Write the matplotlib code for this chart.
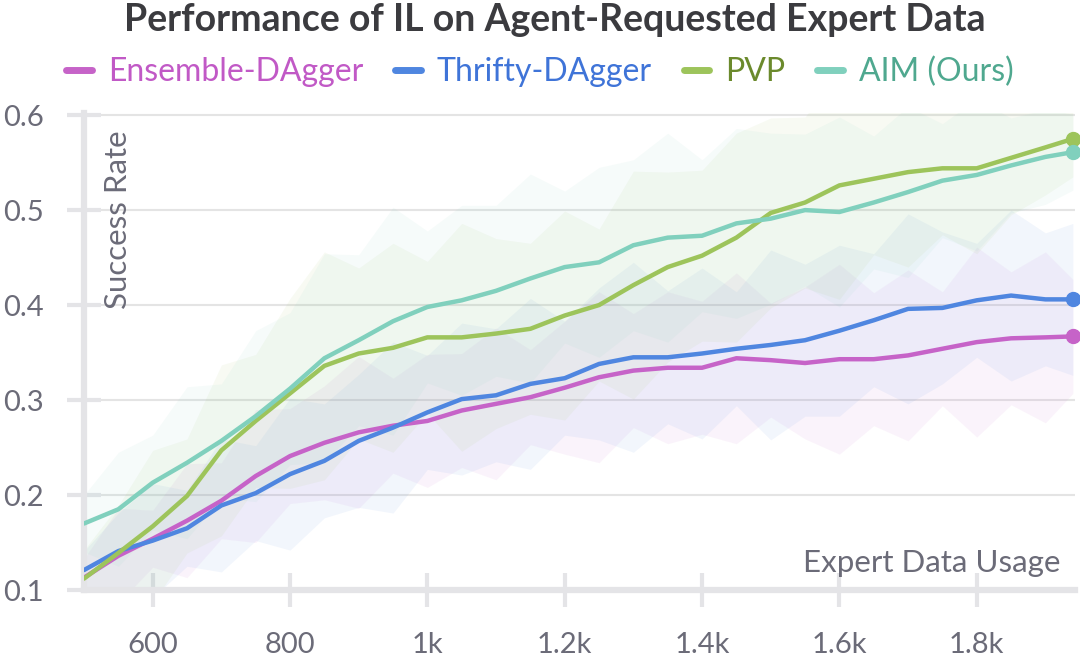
import numpy as np
import matplotlib.pyplot as plt
from matplotlib.lines import Line2D

# expert data usage (x) and mean success rate per method
usage = [500, 550, 600, 650, 700, 750, 800, 850, 900, 950, 1000, 1050, 1100, 1150,
         1200, 1250, 1300, 1350, 1400, 1450, 1500, 1550, 1600, 1650, 1700, 1750,
         1800, 1850, 1900, 1940]

ensemble = [0.113, 0.136, 0.154, 0.173, 0.194, 0.220, 0.241, 0.255, 0.266, 0.273,
            0.278, 0.289, 0.296, 0.303, 0.313, 0.324, 0.331, 0.334, 0.334, 0.344,
            0.342, 0.339, 0.343, 0.343, 0.347, 0.354, 0.361, 0.365, 0.366, 0.367]
thrifty = [0.121, 0.141, 0.152, 0.165, 0.189, 0.202, 0.222, 0.236, 0.257, 0.271,
           0.287, 0.301, 0.305, 0.317, 0.323, 0.338, 0.345, 0.345, 0.349, 0.354,
           0.358, 0.363, 0.373, 0.384, 0.396, 0.397, 0.405, 0.410, 0.406, 0.406]
pvp = [0.112, 0.139, 0.167, 0.199, 0.247, 0.278, 0.307, 0.336, 0.349, 0.355,
       0.366, 0.366, 0.370, 0.375, 0.389, 0.400, 0.421, 0.440, 0.452, 0.471,
       0.497, 0.508, 0.526, 0.533, 0.540, 0.544, 0.544, 0.555, 0.566, 0.575]
aim = [0.170, 0.185, 0.213, 0.234, 0.257, 0.283, 0.312, 0.344, 0.363, 0.383,
       0.398, 0.405, 0.415, 0.428, 0.440, 0.445, 0.463, 0.471, 0.473, 0.486,
       0.491, 0.500, 0.498, 0.508, 0.519, 0.531, 0.537, 0.547, 0.556, 0.561]

# half-width of the shaded spread around each mean
ensemble_sd = [0.02, 0.05, 0.03, 0.06, 0.04, 0.07, 0.05, 0.06, 0.08, 0.05, 0.07, 0.06,
               0.08, 0.05, 0.07, 0.09, 0.06, 0.08, 0.07, 0.09, 0.06, 0.08, 0.10, 0.07,
               0.09, 0.06, 0.10, 0.07, 0.09, 0.06]
thrifty_sd = [0.02, 0.04, 0.06, 0.04, 0.07, 0.05, 0.08, 0.06, 0.07, 0.09, 0.06, 0.08,
              0.07, 0.09, 0.06, 0.08, 0.10, 0.07, 0.09, 0.06, 0.10, 0.08, 0.09, 0.07,
              0.10, 0.08, 0.06, 0.09, 0.07, 0.08]
pvp_sd = [0.03, 0.05, 0.08, 0.06, 0.09, 0.07, 0.10, 0.12, 0.09, 0.11, 0.08, 0.12,
          0.10, 0.09, 0.11, 0.08, 0.12, 0.10, 0.09, 0.11, 0.10, 0.09, 0.12, 0.08,
          0.10, 0.07, 0.09, 0.06, 0.05, 0.04]
aim_sd = [0.03, 0.06, 0.05, 0.08, 0.06, 0.09, 0.08, 0.11, 0.09, 0.12, 0.08, 0.10,
          0.09, 0.11, 0.08, 0.10, 0.09, 0.11, 0.08, 0.10, 0.09, 0.08, 0.10, 0.07,
          0.09, 0.06, 0.08, 0.05, 0.05, 0.04]

names = ['Ensemble-DAgger', 'Thrifty-DAgger', 'PVP', 'AIM (Ours)']
means = [ensemble, thrifty, pvp, aim]
spreads = [ensemble_sd, thrifty_sd, pvp_sd, aim_sd]
line_colors = ['#c663c8', '#4f86e0', '#9dc45b', '#80d0bd']
text_colors = ['#c159c6', '#3f74d8', '#6b8a2c', '#4fa88f']

plt.rcParams['font.family'] = ['Lato', 'DejaVu Sans']

fig = plt.figure(figsize=(10.8, 6.59), dpi=100)
ax = fig.add_axes([0.0778, 0.1047, 0.9175, 0.7235])

x = np.array(usage)
for m, s, c in zip(means, spreads, line_colors):
    m = np.array(m)
    s = np.array(s)
    ax.fill_between(x, m - s, m + s, color=c, alpha=0.07, lw=0)
for m, c in zip(means, line_colors):
    ax.plot(x, m, color=c, lw=3.2, solid_capstyle='round', zorder=3)
    ax.plot(x[-1], m[-1], 'o', color=c, ms=10, zorder=4, clip_on=False)

ax.set_xlim(500, 1943)
ax.set_ylim(0.1, 0.602)
ax.set_yticks([0.1, 0.2, 0.3, 0.4, 0.5, 0.6])
ax.set_yticklabels(['0.1', '0.2', '0.3', '0.4', '0.5', '0.6'])
ax.set_xticks([600, 800, 1000, 1200, 1400, 1600, 1800])
ax.set_xticklabels(['600', '800', '1k', '1.2k', '1.4k', '1.6k', '1.8k'])

ax.grid(axis='y', color='#e4e4e4', lw=1.5)
ax.set_axisbelow(True)
for side in ['top', 'right']:
    ax.spines[side].set_visible(False)
for side in ['left', 'bottom']:
    ax.spines[side].set_color('#e4e4e7')
    ax.spines[side].set_linewidth(4.5)
ax.tick_params(colors='#e4e4e7', labelcolor='#6b6b78', labelsize=21,
               width=3, length=24, direction='inout')
ax.tick_params(axis='y', pad=17)
ax.tick_params(axis='x', pad=18)

ax.text(0.034, 0.965, 'Success Rate', transform=ax.transAxes, rotation=90,
        ha='center', va='top', fontsize=22.5, color='#6b6b78')
ax.text(0.985, 0.057, 'Expert Data Usage', transform=ax.transAxes,
        ha='right', va='center', fontsize=22.5, color='#6b6b78')

fig.text(0.514, 0.995, 'Performance of IL on Agent-Requested Expert Data',
         ha='center', va='top', fontsize=27, fontweight='bold', color='#3b3b3f')

handles = [Line2D([], [], color=c, lw=5, solid_capstyle='round') for c in line_colors]
fig.legend(handles, names, loc='center', bbox_to_anchor=(0.5, 0.891), ncol=4,
           frameon=False, fontsize=23, handlelength=0.8, handletextpad=0.5,
           columnspacing=1.0, labelcolor=text_colors)

fig.savefig('out.png', dpi=100)
